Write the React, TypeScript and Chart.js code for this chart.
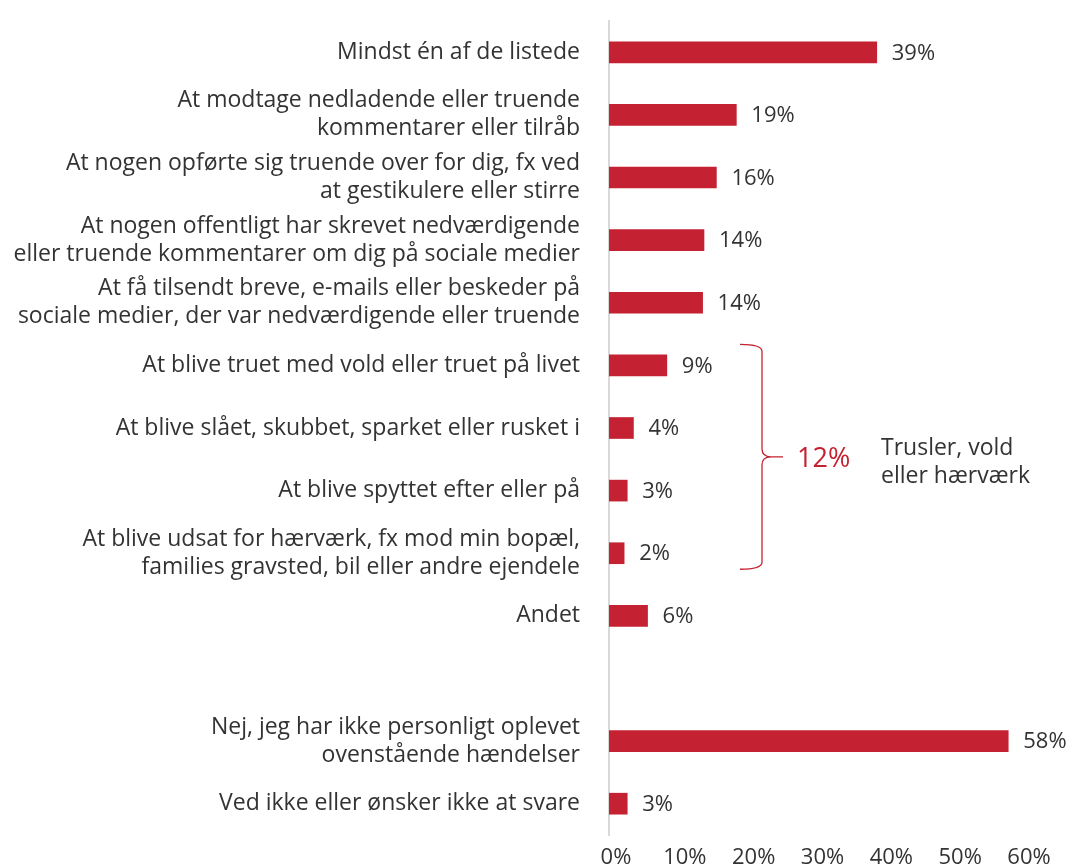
import React, { useEffect, useRef } from "react";
import { Chart, registerables } from "chart.js";

Chart.register(...registerables);

const categories: (string | string[])[] = [
  "Mindst én af de listede",
  ["At modtage nedladende eller truende", "kommentarer eller tilråb"],
  ["At nogen opførte sig truende over for dig, fx ved", "at gestikulere eller stirre"],
  ["At nogen offentligt har skrevet nedværdigende", "eller truende kommentarer om dig på sociale medier"],
  ["At få tilsendt breve, e-mails eller beskeder på", "sociale medier, der var nedværdigende eller truende"],
  "At blive truet med vold eller truet på livet",
  "At blive slået, skubbet, sparket eller rusket i",
  "At blive spyttet efter eller på",
  ["At blive udsat for hærværk, fx mod min bopæl,", "families gravsted, bil eller andre ejendele"],
  "Andet",
  "",
  ["Nej, jeg har ikke personligt oplevet", "ovenstående hændelser"],
  "Ved ikke eller ønsker ikke at svare",
];

const values: (number | null)[] = [38.9, 18.5, 15.6, 13.8, 13.6, 8.4, 3.55, 2.65, 2.2, 5.6, null, 58.0, 2.65];
const valueLabels: string[] = ["39%", "19%", "16%", "14%", "14%", "9%", "4%", "3%", "2%", "6%", "", "58%", "3%"];

const xTicks = [0, 10, 20, 30, 40, 50, 60];

const bracketFirstIndex = 5;
const bracketLastIndex = 8;
const bracketTotal = "12%";
const bracketText = ["Trusler, vold", "eller hærværk"];

const RED = "#C42233";
const TEXT = "#333333";
const FONT = "'Open Sans', sans-serif";

const valueLabelPlugin = {
  id: "valueLabels",
  afterDatasetsDraw(chart: any) {
    const ctx = chart.ctx;
    const meta = chart.getDatasetMeta(0);
    ctx.save();
    ctx.font = `22px ${FONT}`;
    ctx.fillStyle = TEXT;
    ctx.textAlign = "left";
    ctx.textBaseline = "middle";
    meta.data.forEach((bar: any, i: number) => {
      if (values[i] == null) return;
      ctx.fillText(valueLabels[i], bar.x + 15, bar.y + 1);
    });
    ctx.restore();
  },
};

const bracketPlugin = {
  id: "bracket",
  afterDatasetsDraw(chart: any) {
    const ctx = chart.ctx;
    const y = chart.scales.y;
    const left = chart.chartArea.left;
    const top = y.getPixelForValue(bracketFirstIndex) - 21;
    const bottom = y.getPixelForValue(bracketLastIndex) + 16;
    const mid = (top + bottom) / 2;
    const xEnd = left + 131;
    const xV = left + 153;
    const xP = left + 174;
    ctx.save();
    ctx.strokeStyle = RED;
    ctx.lineWidth = 1.3;
    ctx.beginPath();
    ctx.moveTo(xEnd, top);
    ctx.quadraticCurveTo(xV, top, xV, top + 7);
    ctx.lineTo(xV, mid - 8);
    ctx.quadraticCurveTo(xV, mid, xV + 9, mid);
    ctx.lineTo(xP, mid);
    ctx.moveTo(xV + 9, mid);
    ctx.quadraticCurveTo(xV, mid, xV, mid + 8);
    ctx.lineTo(xV, bottom - 7);
    ctx.quadraticCurveTo(xV, bottom, xEnd, bottom);
    ctx.stroke();

    ctx.fillStyle = RED;
    ctx.font = `27px ${FONT}`;
    ctx.textAlign = "left";
    ctx.textBaseline = "alphabetic";
    ctx.fillText(bracketTotal, left + 188, mid + 10);

    ctx.fillStyle = TEXT;
    ctx.font = `23px ${FONT}`;
    ctx.fillText(bracketText[0], left + 272, mid - 2);
    ctx.fillText(bracketText[1], left + 272, mid + 26);
    ctx.restore();
  },
};

export default function App() {
  const canvasRef = useRef<HTMLCanvasElement | null>(null);

  useEffect(() => {
    if (!canvasRef.current) return;
    const chart = new Chart(canvasRef.current, {
      type: "bar",
      data: {
        labels: categories,
        datasets: [
          {
            data: values,
            backgroundColor: RED,
            borderWidth: 0,
            barThickness: 21,
          },
        ],
      },
      options: {
        indexAxis: "y",
        animation: false,
        responsive: true,
        maintainAspectRatio: false,
        layout: { padding: { top: 21, right: 49, bottom: 0, left: 0 } },
        plugins: {
          legend: { display: false },
          tooltip: { enabled: false },
        },
        scales: {
          x: {
            min: 0,
            max: 60,
            afterBuildTicks: (scale: any) => {
              scale.ticks = xTicks.map((v) => ({ value: v }));
            },
            afterFit: (scale: any) => {
              scale.height = 32;
              scale.paddingLeft = 0;
              scale.paddingRight = 0;
            },
            grid: { display: false, drawTicks: false },
            border: { display: false },
            ticks: {
              padding: 10,
              labelOffset: 7,
              color: TEXT,
              font: { family: FONT, size: 22 },
              callback: (v: any) => `${v}%`,
              maxRotation: 0,
            },
          },
          y: {
            afterFit: (scale: any) => {
              scale.width = 609;
              scale.paddingTop = 0;
              scale.paddingBottom = 0;
            },
            grid: { display: false, drawTicks: false },
            border: { display: true, color: "#d9d9d9", width: 2 },
            ticks: {
              crossAlign: "near",
              padding: 29,
              color: TEXT,
              autoSkip: false,
              font: { family: FONT, size: 23, lineHeight: 1.22 },
            },
          },
        },
      },
      plugins: [valueLabelPlugin, bracketPlugin],
    });
    return () => chart.destroy();
  }, []);

  return (
    <div style={{ position: "fixed", left: 0, top: 0, width: 1071, height: 867, background: "#fff" }}>
      <canvas ref={canvasRef} />
    </div>
  );
}
